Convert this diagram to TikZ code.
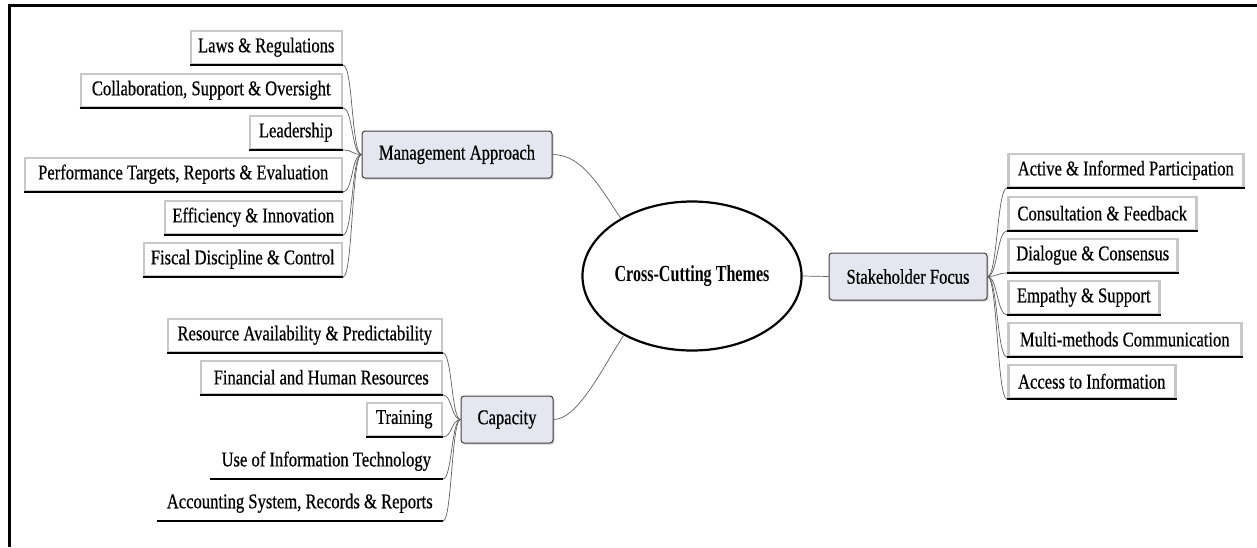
\documentclass[tikz,border=0pt]{standalone}
\usepackage{fontspec}
\setmainfont{Liberation Serif}[FakeStretch=0.79,FakeBold=0.5]
\newfontfamily\hubfont{Liberation Serif}[FakeStretch=0.7]
\usetikzlibrary{shapes.geometric,shadows}
\definecolor{lav}{RGB}{230,230,240}
\definecolor{leafgray}{RGB}{200,200,200}
\definecolor{linkgray}{RGB}{95,95,95}
\begin{document}
\begin{tikzpicture}[x=1pt,y=-1pt,
  txt/.style={font=\fontsize{21pt}{24pt}\selectfont},
  hub/.style={ellipse, draw, line width=2.2pt, minimum width=180pt, minimum height=149pt,
    inner sep=0pt, font=\hubfont\bfseries\fontsize{23pt}{26pt}\selectfont},
  branch/.style={txt, draw=black!75, line width=1pt, rounded corners=3pt, fill=lav,
    minimum height=47pt, inner sep=0pt,
    drop shadow={shadow xshift=1.5pt, shadow yshift=-1.5pt, fill=black!35}},
  leaf/.style={txt, draw=leafgray, line width=2.5pt, minimum height=33pt,
    inner xsep=5pt, inner ysep=0pt},
  plainleaf/.style={leaf, draw=none},
  link/.style={draw=linkgray, line width=0.7pt},
  uline/.style={draw=black, line width=1.5pt}
]
\useasboundingbox (0,0) rectangle (1257,547);
% frame
\draw[line width=3pt] (9,547) -- (9,5) -- (1257,5);

% centre and main branches
\node[hub] (hub) at (692,276) {Cross-Cutting Themes};
\node[branch, minimum width=190pt] (mgmt) at (457,154.5) {Management Approach};
\node[branch, minimum width=92pt] (cap) at (507,419.5) {Capacity};
\node[branch, minimum width=158pt] (stake) at (908,276.5) {Stakeholder Focus};

\draw[link] (hub.east) -- (stake.west);
\draw[link] (mgmt.east) .. controls +(30,0) and +(-20,-30) .. (hub.141);
\draw[link] (cap.east) .. controls +(25,0) and +(-20,30) .. (hub.221);

% management approach leaves
\node[leaf, minimum width=151pt, anchor=south east] (m1) at (343,65) {Laws \& Regulations};
\node[leaf, minimum width=261pt, anchor=south east] (m2) at (343,108) {Collaboration, Support \& Oversight};
\node[leaf, minimum width=92pt, anchor=south east] (m3) at (343,150) {Leadership};
\node[leaf, minimum width=317pt, anchor=south east] (m4) at (343,192) {Performance Targets, Reports \& Evaluation};
\node[leaf, minimum width=177pt, anchor=south east] (m5) at (343,235) {Efficiency \& Innovation};
\node[leaf, minimum width=198pt, anchor=south east] (m6) at (343,277) {Fiscal Discipline \& Control};
\foreach \n in {m1,m2,m3,m4,m5,m6}{
  \draw[link] (mgmt.west) .. controls +(-10,0) and +(10,0) .. (\n.south east);
  \draw[uline] (\n.south west) -- (\n.south east);
}

% capacity leaves
\node[leaf, minimum width=274pt, anchor=south east] (c1) at (443,353) {Resource Availability \& Predictability};
\node[leaf, minimum width=241pt, anchor=south east] (c2) at (443,395) {Financial and Human Resources};
\node[leaf, minimum width=75pt, anchor=south east] (c3) at (443,437) {Training};
\node[plainleaf, minimum width=231pt, anchor=south east] (c4) at (443,479) {Use of Information Technology};
\node[plainleaf, minimum width=284pt, anchor=south east] (c5) at (443,521) {Accounting System, Records \& Reports};
\foreach \n in {c1,c2,c3,c4,c5}{
  \draw[link] (cap.west) .. controls +(-9,0) and +(9,0) .. (\n.south east);
  \draw[uline] (\n.south west) -- (\n.south east);
}

% stakeholder focus leaves
\node[leaf, minimum width=235pt, anchor=south west] (s1) at (1007,188) {Active \& Informed Participation};
\node[leaf, minimum width=188pt, anchor=south west] (s2) at (1007,231) {Consultation \& Feedback};
\node[leaf, minimum width=169pt, anchor=south west] (s3) at (1007,273) {Dialogue \& Consensus};
\node[leaf, minimum width=151pt, anchor=south west] (s4) at (1007,315) {Empathy \& Support};
\node[leaf, minimum width=233pt, anchor=south west] (s5) at (1007,357) {Multi-methods Communication};
\node[leaf, minimum width=167pt, anchor=south west] (s6) at (1007,399) {Access to Information};
\foreach \n in {s1,s2,s3,s4,s5,s6}{
  \draw[link] (stake.east) .. controls +(10,0) and +(-10,0) .. (\n.south west);
  \draw[uline] (\n.south west) -- (\n.south east);
}
\end{tikzpicture}
\end{document}
